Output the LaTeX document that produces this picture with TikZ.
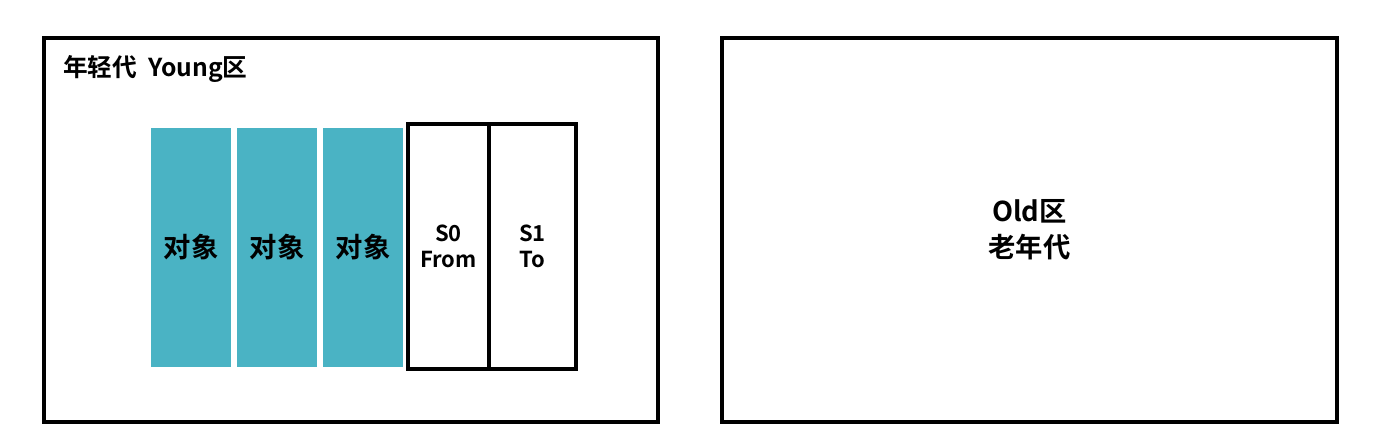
\documentclass[tikz,border=0pt]{standalone}
\usepackage{fontspec}
\setmainfont{Noto Sans CJK SC}[BoldFont={* Bold}]
\newfontfamily\cjkb{Noto Sans CJK SC Bold}
\usetikzlibrary{shadows}
\definecolor{teal1}{RGB}{74,179,196}
\begin{document}
\begin{tikzpicture}[x=0.75pt,y=-0.75pt,
  frame/.style={draw=black,line width=2.5pt,fill=white},
  objbox/.style={draw=white,line width=1.5pt,fill=teal1,
    drop shadow={shadow xshift=1pt,shadow yshift=-1pt,opacity=0.3}},
  survbox/.style={draw=black,line width=2.4pt,fill=white},
  lbl/.style={font=\cjkb\fontsize{20.5}{24}\selectfont,align=center,text=black},
  slbl/.style={font=\cjkb\fontsize{16.5}{19.5}\selectfont,align=center,text=black}]
\useasboundingbox (0,0) rectangle (1373,446);
\fill[white] (0,0) rectangle (1373,446);
% outer regions
\node[frame,minimum width=614*0.75pt,minimum height=384*0.75pt,inner sep=0pt] (young) at (351,230) {};
\node[frame,minimum width=615*0.75pt,minimum height=384*0.75pt,inner sep=0pt] (old) at (1029.5,230) {};
\node[font=\cjkb\fontsize{18.5}{22}\selectfont,anchor=west,inner sep=0pt] (ytitle) at (63,69) {年轻代\hspace{0.45em}Young区};
\node[lbl,font=\cjkb\fontsize{20.5}{27}\selectfont] (otitle) at (old.center) {Old区\\老年代};
% survivor boxes
\node[survbox,minimum width=81*0.75pt,minimum height=245*0.75pt,inner sep=0pt] (s0) at (448.5,246.5) {};
\node[survbox,minimum width=87*0.75pt,minimum height=245*0.75pt,inner sep=0pt] (s1) at (532.5,246.5) {};
\node[slbl] at (s0.center) {S0\\From};
\node[slbl] at (s1.center) {S1\\To};
% object boxes
\node[objbox,minimum width=82*0.75pt,minimum height=241*0.75pt,inner sep=0pt] (o1) at (191,247) {};
\node[objbox,minimum width=82*0.75pt,minimum height=241*0.75pt,inner sep=0pt] (o2) at (277,247) {};
\node[objbox,minimum width=82*0.75pt,minimum height=241*0.75pt,inner sep=0pt] (o3) at (363,247) {};
\node[lbl] at (o1.center) {对象};
\node[lbl] at (o2.center) {对象};
\node[lbl] at (o3.center) {对象};
\end{tikzpicture}
\end{document}
